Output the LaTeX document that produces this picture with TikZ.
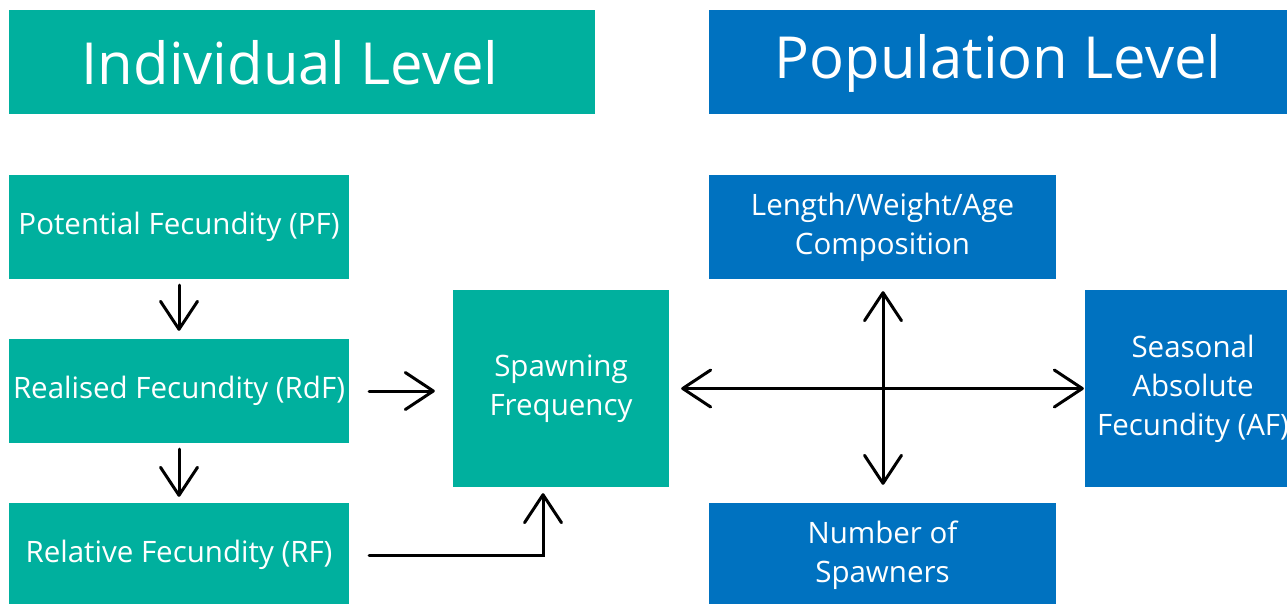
\documentclass[tikz,border=0pt]{standalone}
\usepackage{fontspec}
\setmainfont{Open Sans}
\usetikzlibrary{arrows.meta,calc}
\definecolor{teal}{HTML}{00B09E}
\definecolor{popblue}{HTML}{0072C0}
\begin{document}
\begin{tikzpicture}[x=1pt,y=-1pt,
  box/.style={inner sep=0pt,align=center,text=white,font=\fontsize{29.5}{39}\selectfont},
  tbox/.style={box,fill=teal},
  bbox/.style={box,fill=popblue},
  head/.style={inner sep=0pt,text=white,font=\fontsize{58}{60}\selectfont},
  arr/.style={line width=3pt,line cap=round,-{Straight Barb[length=28pt,width=37pt,line cap=round,line join=round]}},
  darr/.style={line width=3pt,line cap=round,{Straight Barb[length=28pt,width=37pt,line cap=round,line join=round]}-{Straight Barb[length=28pt,width=37pt,line cap=round,line join=round]}}
]
\useasboundingbox (0,0) rectangle (1287,603);
% headings
\node[head,fill=teal,minimum width=586pt,minimum height=104pt] (ind) at (302,62) {};
\node[head] at ([xshift=-12pt,yshift=-1pt]ind.center) {Individual Level};
\node[head,fill=popblue,minimum width=578pt,minimum height=104pt] (pop) at (998,62) {};
\node[head] at ([yshift=-1pt]pop.center) {Population Level};
% individual boxes
\node[tbox,minimum width=340pt,minimum height=104pt] (pf) at (179,227) {Potential Fecundity (PF)};
\node[tbox,minimum width=340pt,minimum height=104pt] (rdf) at (179,391) {Realised Fecundity (RdF)};
\node[tbox,minimum width=340pt,minimum height=104pt] (rf) at (179,555) {Relative Fecundity (RF)};
\node[tbox,minimum width=216pt,minimum height=197pt] (sf) at (561,388.5) {Spawning\\Frequency};
% population boxes
\node[bbox,minimum width=347pt,minimum height=104pt] (lwa) at (882.5,227) {Length/Weight/Age\\Composition};
\node[bbox,minimum width=216pt,minimum height=197pt] (saf) at (1193,388.5) {Seasonal\\Absolute\\Fecundity (AF)};
\node[bbox,minimum width=347pt,minimum height=104pt] (nos) at (882.5,555) {Number of\\Spawners};
% connectors
\draw[arr,shorten <=6pt,shorten >=8pt] (pf.south) -- (rdf.north);
\draw[arr,shorten <=6pt,shorten >=6pt] (rdf.south) -- (rf.north);
\draw[arr,shorten <=20pt,shorten >=18pt] (rdf.east) -- (rdf.east -| sf.west);
\draw[arr,shorten <=20pt,shorten >=6pt] (rf.east) -| ([xshift=-18pt]sf.south);
\draw[darr,shorten <=12pt,shorten >=1pt] (sf.east) -- (saf.west);
\draw[darr,shorten <=12pt,shorten >=18pt] ([xshift=0.5pt]lwa.south) -- ([xshift=0.5pt]nos.north);
\end{tikzpicture}
\end{document}
